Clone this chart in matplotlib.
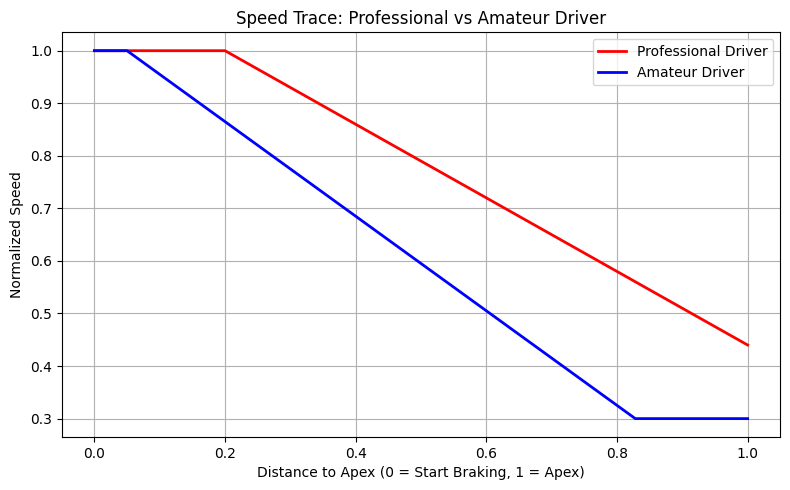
import matplotlib
matplotlib.use("Agg")
import matplotlib.pyplot as plt

pro_x = [0.0, 0.2, 1.0]
pro_y = [1.0, 1.0, 0.44]
am_x = [0.0, 0.05, 0.828, 1.0]
am_y = [1.0, 1.0, 0.3, 0.3]

fig, ax = plt.subplots(figsize=(7.9, 4.9), dpi=100)
ax.plot(pro_x, pro_y, color="red", linewidth=2, label="Professional Driver")
ax.plot(am_x, am_y, color="blue", linewidth=2, label="Amateur Driver")
ax.set_title("Speed Trace: Professional vs Amateur Driver")
ax.set_xlabel("Distance to Apex (0 = Start Braking, 1 = Apex)")
ax.set_ylabel("Normalized Speed")
ax.grid(True)
ax.legend(loc="upper right")
fig.subplots_adjust(left=61.7/790, right=780.3/790, top=1-32.3/490, bottom=1-437/490)
fig.savefig("out.png")
